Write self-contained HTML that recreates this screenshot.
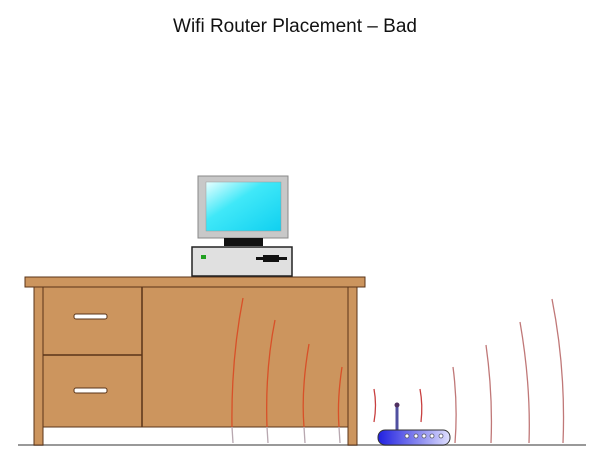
<!DOCTYPE html>
<html><head><style>
body{margin:0;background:#fff;}
</style></head><body>
<svg width="600" height="464" viewBox="0 0 600 464" xmlns="http://www.w3.org/2000/svg">
<defs>
<linearGradient id="scr" x1="0" y1="0" x2="1" y2="1"><stop offset="0" stop-color="#e8ffff"/><stop offset="0.4" stop-color="#40e8f8"/><stop offset="1" stop-color="#10d0f0"/></linearGradient>
<linearGradient id="rt" x1="0" y1="0" x2="1" y2="0"><stop offset="0" stop-color="#2020e0"/><stop offset="0.6" stop-color="#9090f0"/><stop offset="1" stop-color="#e0e0ff"/></linearGradient>
</defs>
<text x="295" y="32" font-family="Liberation Sans, sans-serif" font-size="19" text-anchor="middle" fill="#111">Wifi Router Placement – Bad</text>
<!-- floor -->
<line x1="18" y1="445" x2="586" y2="445" stroke="#999" stroke-width="2"/>
<!-- desk -->
<rect x="43" y="287" width="305" height="140" fill="#cc955e" stroke="#5a3418" stroke-width="1"/>
<rect x="34" y="286" width="9" height="159" fill="#cc955e" stroke="#5a3418" stroke-width="1"/>
<rect x="348" y="286" width="9" height="159" fill="#cc955e" stroke="#5a3418" stroke-width="1"/>
<rect x="25" y="277" width="340" height="10" fill="#cc955e" stroke="#5a3418" stroke-width="1"/>
<line x1="142" y1="287" x2="142" y2="427" stroke="#5a3418" stroke-width="1.5"/>
<line x1="43" y1="355" x2="142" y2="355" stroke="#5a3418" stroke-width="1.5"/>
<rect x="74" y="314" width="33" height="5" rx="2" fill="#fff" stroke="#5a3418"/>
<rect x="74" y="388" width="33" height="5" rx="2" fill="#fff" stroke="#5a3418"/>
<!-- waves in desk -->
<g fill="none" stroke="#d85028" stroke-width="1.3">
<path d="M243 298 Q231 360 232 427"/>
<path d="M275 320 Q265 370 267 427"/>
<path d="M309 344 Q301 390 304 427"/>
<path d="M342 367 Q337 400 339 427"/>
</g>
<g fill="none" stroke="#b8a8b0" stroke-width="1.3">
<path d="M232 427 L233 443"/><path d="M267 427 L268 443"/><path d="M304 427 L305 443"/><path d="M339 427 L340 443"/>
</g>
<!-- right waves -->
<g fill="none" stroke="#c07878" stroke-width="1.3">
<path d="M374 389 Q377 405 374 422" stroke="#c84040"/>
<path d="M420 389 Q423 405 421 422" stroke="#c84040"/>
<path d="M453 367 Q458 405 455 443"/>
<path d="M486 345 Q493 395 491 443"/>
<path d="M520 322 Q531 385 529 443"/>
<path d="M552 299 Q566 370 563 443"/>
</g>
<!-- router -->
<line x1="397" y1="405" x2="397" y2="431" stroke="#5050a0" stroke-width="3"/>
<circle cx="397" cy="405" r="2.5" fill="#503060"/>
<rect x="378" y="430" width="72" height="15" rx="7" fill="url(#rt)" stroke="#333" stroke-width="1"/>
<g fill="#fff" stroke="#556" stroke-width="0.8">
<circle cx="407" cy="436" r="2"/><circle cx="416" cy="436" r="2"/><circle cx="424" cy="436" r="2"/><circle cx="432" cy="436" r="2"/><circle cx="441" cy="436" r="2"/>
</g>
<!-- computer -->
<rect x="198" y="176" width="90" height="62" fill="#c8c8c8" stroke="#888" stroke-width="1"/>
<rect x="206" y="182" width="75" height="49" fill="url(#scr)" stroke="#999" stroke-width="0.5"/>
<rect x="224" y="238" width="39" height="8" fill="#111"/>
<rect x="192" y="247" width="100" height="29" fill="#e0e0e0" stroke="#222" stroke-width="1.5"/>
<rect x="201" y="255" width="5" height="4" fill="#20a020"/>
<rect x="256" y="257" width="31" height="3" fill="#111"/>
<rect x="263" y="255" width="16" height="7" fill="#111"/>
</svg>
</body></html>
